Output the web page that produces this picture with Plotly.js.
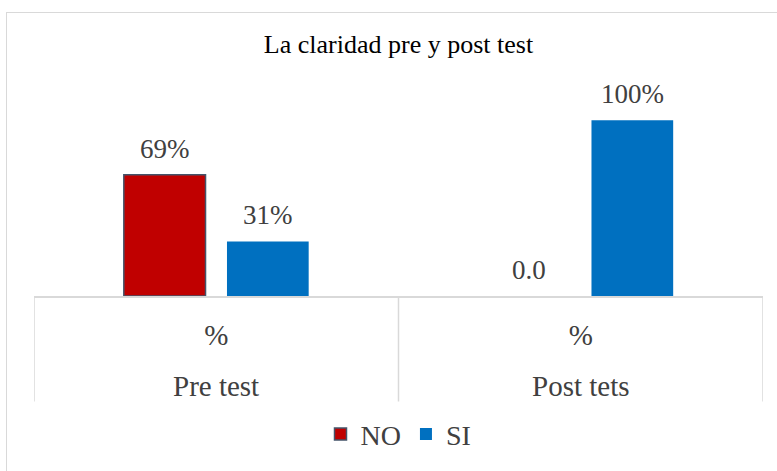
<!DOCTYPE html>
<html>
<head>
<meta charset="utf-8">
<script src="https://cdn.plot.ly/plotly-3.0.1.min.js"></script>
<style>
html,body{margin:0;padding:0;background:#fff;}
#frame{position:absolute;left:6px;top:12px;width:800px;height:500px;border:1.5px solid #d9d9d9;box-sizing:border-box;}
#chart{position:absolute;left:0;top:0;width:777px;height:471px;}
</style>
</head>
<body>
<div id="frame"></div>
<div id="chart"></div>
<script>
var groups = ["Pre test", "Post tets"];
var units = ["%", "%"];
var noValues = [69, 0];
var siValues = [31, 100];
var noLabels = ["69%", "0.0"];
var siLabels = ["31%", "100%"];
var seriesNames = ["NO", "SI"];

var serif = "Liberation Serif";
var labelFont = {family: serif, size: 27, color: "#404040"};

var traces = [
  {type: "bar", name: seriesNames[0], x: groups, y: noValues,
   marker: {color: "#C00000", line: {color: "#44546A", width: noValues.map(function(v){return v > 0 ? 1.5 : 0;})}}},
  {type: "bar", name: seriesNames[1], x: groups, y: siValues,
   marker: {color: "#0070C0", line: {color: "#0070C0", width: 0}}}
];

var annotations = [];
// data labels above each bar
[[noValues, noLabels, -51.75], [siValues, siLabels, 51.75]].forEach(function(s){
  groups.forEach(function(g, i){
    annotations.push({xref: "x", yref: "y", x: g, y: s[0][i], text: s[1][i],
      xshift: s[2], yshift: 9, yanchor: "bottom", xanchor: "center",
      showarrow: false, font: labelFont});
  });
});
// outer category labels
groups.forEach(function(g){
  annotations.push({xref: "x", yref: "paper", x: g, y: -0.425, yanchor: "middle",
    text: g, showarrow: false, font: {family: serif, size: 29, color: "#404040"}});
});

// category dividers
var shapes = [];
for (var k = 0; k <= groups.length; k++) {
  shapes.push({type: "line", xref: "x", yref: "paper", x0: k - 0.5, x1: k - 0.5, y0: 0, y1: -0.5,
    line: {color: "#d9d9d9", width: 1.5}});
}

var layout = {
  width: 777, height: 471,
  paper_bgcolor: "rgba(0,0,0,0)", plot_bgcolor: "rgba(0,0,0,0)",
  margin: {l: 34, r: 14, t: 85, b: 170},
  barmode: "group", bargap: 0.434, bargroupgap: 0.208,
  showlegend: true,
  title: {text: "La claridad pre y post test", font: {family: serif, size: 26, color: "#000"},
          x: 0.5, xanchor: "center", y: 0.907, yanchor: "middle", xref: "paper"},
  xaxis: {type: "category", showline: true, linecolor: "#d9d9d9", linewidth: 1.5,
          tickmode: "array", tickvals: groups, ticktext: units, ticklabelstandoff: 13,
          range: [-0.5, groups.length - 0.5],
          tickfont: {family: serif, size: 29, color: "#404040"}, ticks: "", fixedrange: true},
  yaxis: {range: [0, 120], visible: false, showgrid: false, zeroline: false, fixedrange: true},
  legend: {orientation: "h", x: 0.5, xanchor: "center", y: -0.655, yanchor: "middle",
           font: {family: serif, size: 28, color: "#404040"}, itemwidth: 30, traceorder: "normal"},
  annotations: annotations,
  shapes: shapes,
  font: {family: serif}
};

Plotly.newPlot("chart", traces, layout, {displayModeBar: false, staticPlot: true});
</script>
</body>
</html>
